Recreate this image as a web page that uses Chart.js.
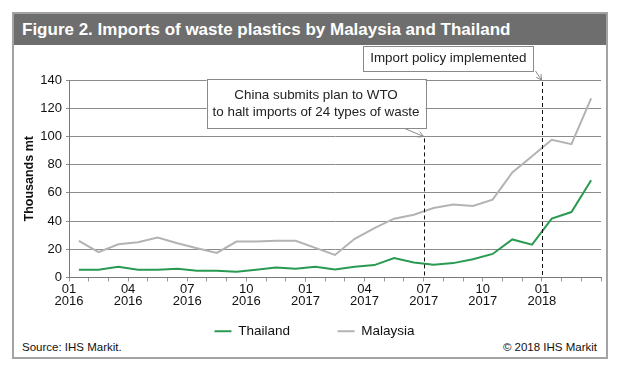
<!DOCTYPE html>
<html>
<head>
<meta charset="utf-8">
<script src="https://cdn.jsdelivr.net/npm/chart.js@4.4.1/dist/chart.umd.min.js"></script>
<style>
    html, body { margin: 0; padding: 0; background: #fff; }
    #wrap { position: relative; width: 622px; height: 372px; font-family: 'Liberation Sans', Arial, sans-serif; }
    #frame { position: absolute; left: 12px; top: 12px; width: 592px; height: 343px; border: 2px solid #a3a3a3; }
    #title { position: absolute; left: 14px; top: 14px; width: 592px; height: 31px; background: #6e6e6e;
             color: #fff; font-weight: bold; font-size: 17px; line-height: 31px; padding-left: 8px; box-sizing: border-box; }
    .foot { position: absolute; top: 341px; font-size: 11.5px; color: #111; }
    #source { left: 22px; }
    #copy { right: 25px; }
    canvas { position: absolute; left: 0; top: 0; }
</style>
</head>
<body>
<div id="wrap">
    <div id="frame"></div>
    <div id="title">Figure 2. Imports of waste plastics by Malaysia and Thailand</div>
    <div class="foot" id="source">Source: IHS Markit.</div>
    <div class="foot" id="copy">© 2018 IHS Markit</div>
    <canvas id="wasteChart" width="622" height="372"></canvas>
</div>
<script>
// Months Jan 2016 - Mar 2018, one point per month
const months = [
    '2016-01', '2016-02', '2016-03', '2016-04', '2016-05', '2016-06',
    '2016-07', '2016-08', '2016-09', '2016-10', '2016-11', '2016-12',
    '2017-01', '2017-02', '2017-03', '2017-04', '2017-05', '2017-06',
    '2017-07', '2017-08', '2017-09', '2017-10', '2017-11', '2017-12',
    '2018-01', '2018-02', '2018-03'
];

// Thousands mt
const thailand = [
    5.5, 5.5, 7.6, 5.5, 5.5, 6.2, 4.8, 4.8, 4.0, 5.5, 7.0, 6.2,
    7.6, 5.6, 7.6, 8.8, 13.8, 10.7, 9.0, 10.2, 13.0, 16.7, 27.0, 23.3,
    41.7, 46.4, 69.0
];

const malaysia = [
    26.0, 18.0, 23.5, 25.0, 28.3, 24.3, 20.7, 17.4, 25.5, 25.5, 26.0, 26.0,
    21.0, 16.0, 27.4, 35.0, 41.7, 44.5, 49.3, 51.7, 50.7, 55.2, 74.5, 86.0,
    97.6, 94.5, 127.0
];

// Quarterly tick labels (every 3 months from Jan 2016)
const xTickLabels = [
    ['01', '2016'], ['04', '2016'], ['07', '2016'], ['10', '2016'],
    ['01', '2017'], ['04', '2017'], ['07', '2017'], ['10', '2017'],
    ['01', '2018']
];

// Policy events: month index of the dashed line, value where the arrow points, note text
const eventMonths = [18, 24];
const eventValues = [100, 140];
const eventNotes = [
    ['China submits plan to WTO', 'to halt imports of 24 types of waste'],
    ['Import policy implemented']
];

const FONT = "'Liberation Sans', Arial, sans-serif";

// box placement relative to the event point (px)
const noteLayout = [
    { dx: 1, dy: -57, h: 49, padX: 6, arrowX: -21 },
    { dx: -9, dy: -34, h: 25, padX: 7, arrowX: 2 }
];

const policyNotes = {
    id: 'policyNotes',
    afterLayout(chart) {
        // nudge legend slightly right, as in the original
        if (chart.legend) {
            chart.legend.left += 5;
            chart.legend.right += 5;
        }
    },
    afterDatasetsDraw(chart) {
        const { ctx, chartArea, scales } = chart;
        ctx.save();
        eventMonths.forEach((m, i) => {
            const px = Math.round(scales.x.getPixelForValue(m)) + 0.5;
            const tipY = scales.y.getPixelForValue(eventValues[i]);
            const lay = noteLayout[i];

            // dashed marker line
            ctx.strokeStyle = '#111';
            ctx.lineWidth = 1;
            ctx.setLineDash([4, 3]);
            ctx.beginPath();
            ctx.moveTo(px, tipY + 2);
            ctx.lineTo(px, chartArea.bottom);
            ctx.stroke();
            ctx.setLineDash([]);

            // note box
            ctx.font = '13.4px ' + FONT;
            const w = Math.max(...eventNotes[i].map(t => ctx.measureText(t).width)) + lay.padX * 2;
            const right = px + lay.dx;
            const left = right - w;
            const top = tipY + lay.dy;
            const bottom = top + lay.h;
            ctx.fillStyle = '#fff';
            ctx.fillRect(left, top, w, lay.h);
            ctx.strokeStyle = '#8a8a8a';
            ctx.strokeRect(Math.round(left) + 0.5, Math.round(top) + 0.5, Math.round(w), lay.h);

            ctx.fillStyle = '#222';
            ctx.textAlign = 'center';
            ctx.textBaseline = 'middle';
            const n = eventNotes[i].length;
            const midY = (top + bottom) / 2;
            eventNotes[i].forEach((t, k) => {
                ctx.fillText(t, (left + right) / 2, midY + (k - (n - 1) / 2) * 17);
            });

            // arrow from box to event point
            const sx = right + lay.arrowX;
            const sy = bottom;
            const ex = px - 1;
            const ey = tipY;
            ctx.strokeStyle = '#8a8a8a';
            ctx.lineWidth = 1;
            ctx.beginPath();
            ctx.moveTo(sx, sy);
            ctx.lineTo(ex, ey);
            ctx.stroke();
            const ang = Math.atan2(ey - sy, ex - sx);
            ctx.beginPath();
            ctx.moveTo(ex - 6 * Math.cos(ang - 0.5), ey - 6 * Math.sin(ang - 0.5));
            ctx.lineTo(ex, ey);
            ctx.lineTo(ex - 6 * Math.cos(ang + 0.5), ey - 6 * Math.sin(ang + 0.5));
            ctx.stroke();
        });
        ctx.restore();
    }
};

const ctx = document.getElementById('wasteChart').getContext('2d');
new Chart(ctx, {
    type: 'line',
    data: {
        datasets: [{
            label: 'Thailand',
            data: thailand.map((v, i) => ({ x: i + 0.5, y: v })),
            borderColor: '#2a9a52',
            backgroundColor: '#2a9a52',
            borderWidth: 2,
            pointRadius: 0,
            tension: 0
        }, {
            label: 'Malaysia',
            data: malaysia.map((v, i) => ({ x: i + 0.5, y: v })),
            borderColor: '#b3b3b3',
            backgroundColor: '#b3b3b3',
            borderWidth: 2,
            pointRadius: 0,
            tension: 0
        }]
    },
    options: {
        responsive: false,
        animation: false,
        devicePixelRatio: 1,
        layout: { padding: { left: 18, right: 21, top: 80, bottom: 24 } },
        plugins: {
            legend: {
                position: 'bottom',
                labels: {
                    usePointStyle: true,
                    pointStyle: 'line',
                    pointStyleWidth: 17,
                    padding: 10,
                    color: '#111',
                    font: { family: FONT, size: 13.5 },
                    generateLabels(chart) {
                        const items = Chart.defaults.plugins.legend.labels.generateLabels(chart);
                        // widen gap between the two entries
                        items[0].text = items[0].text + '          ';
                        items.forEach(it => { it.lineWidth = 2; });
                        return items;
                    }
                }
            },
            tooltip: { enabled: false }
        },
        scales: {
            x: {
                type: 'linear',
                min: 0,
                max: months.length,
                afterFit(scale) { scale.height = 37; },
                ticks: {
                    stepSize: 1,
                    autoSkip: false,
                    maxRotation: 0,
                    padding: 2,
                    color: '#111',
                    font: { family: FONT, size: 13, lineHeight: 0.9 },
                    callback: v => (v % 3 === 0 && xTickLabels[v / 3]) ? xTickLabels[v / 3] : ''
                },
                grid: { drawOnChartArea: false, drawTicks: true, tickLength: 4, color: '#999' },
                border: { display: true, color: '#777' }
            },
            y: {
                min: 0,
                max: 140,
                afterFit(scale) { scale.width = 51; },
                ticks: {
                    stepSize: 20,
                    padding: 4,
                    color: '#111',
                    font: { family: FONT, size: 13 }
                },
                grid: { color: '#8c8c8c', tickLength: 3 },
                border: { display: true, color: '#777' },
                title: {
                    display: true,
                    text: 'Thousands mt',
                    color: '#111',
                    padding: { top: 4, bottom: 4 },
                    font: { family: FONT, size: 12.5, weight: 'bold' }
                }
            }
        }
    },
    plugins: [policyNotes]
});
</script>
</body>
</html>
